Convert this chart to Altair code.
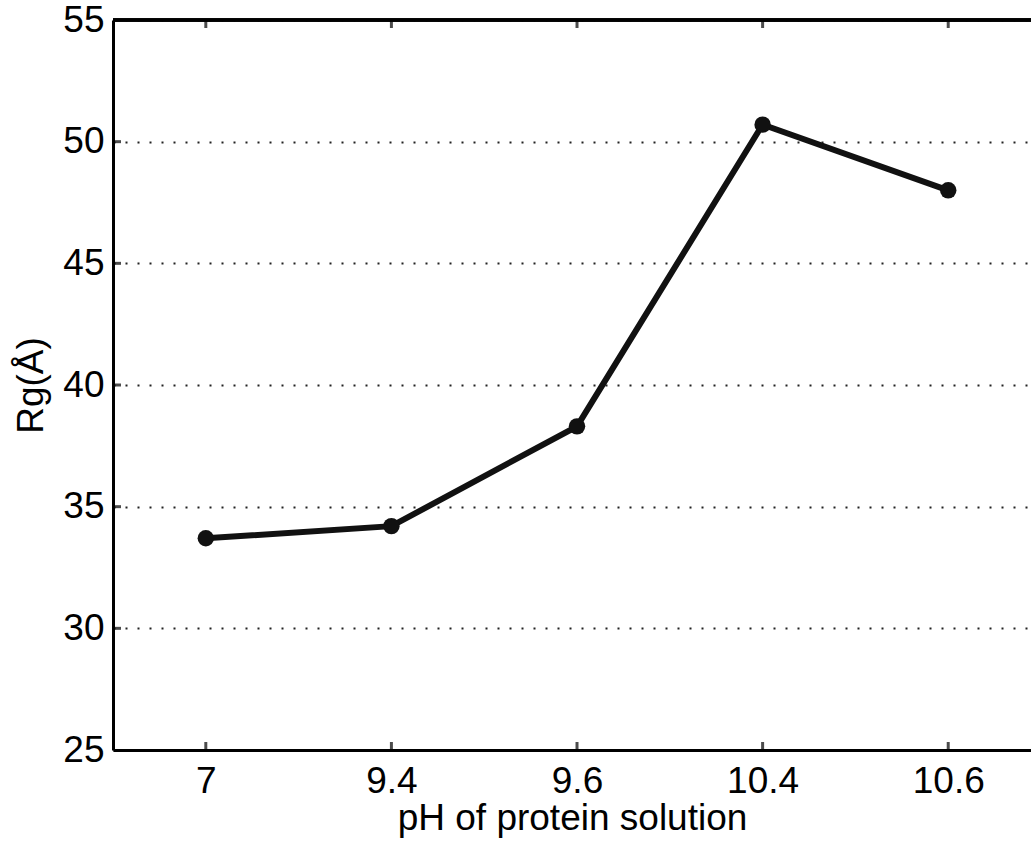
import altair as alt
import pandas as pd

ph_labels = ["7", "9.4", "9.6", "10.4", "10.6"]
rg_values = [33.7, 34.2, 38.3, 50.7, 48.0]
y_ticks = [30, 35, 40, 45, 50]

idx = list(range(1, len(ph_labels) + 1))
df = pd.DataFrame({"i": idx, "ph": ph_labels, "rg": rg_values})
xt = pd.DataFrame({"i": idx})
yt = pd.DataFrame({"v": y_ticks})

FONT = "Liberation Sans"
label_expr = "[" + ",".join("'" + s + "'" for s in ph_labels) + "][datum.value-1]"

xscale = alt.Scale(domain=[0.5, 5.446], nice=False, zero=False)
yscale = alt.Scale(domain=[25, 55], nice=False, zero=False)

x_axis = alt.Axis(
    values=idx, labelExpr=label_expr, title="pH of protein solution",
    grid=False, ticks=False, domainColor="black", domainWidth=3,
    labelFont=FONT, labelFontSize=37, labelColor="black", labelPadding=13,
    titleFont=FONT, titleFontSize=37, titleFontWeight="normal", titleColor="black",
    titlePadding=1,
)
y_axis = alt.Axis(
    values=[25, 30, 35, 40, 45, 50, 55], title="Rg(Å)",
    grid=True, gridColor="#222222", gridDash=[2, 10], gridWidth=2,
    ticks=False, domainColor="black", domainWidth=3,
    labelFont=FONT, labelFontSize=37, labelColor="black", labelPadding=9,
    titleFont=FONT, titleFontSize=37, titleFontWeight="normal", titleColor="black",
    titlePadding=12,
)

line = alt.Chart(df).mark_line(color="#111111", strokeWidth=6).encode(
    x=alt.X("i:Q", scale=xscale, axis=x_axis),
    y=alt.Y("rg:Q", scale=yscale, axis=y_axis),
)
pts = alt.Chart(df).mark_point(filled=True, color="#111111", size=270, opacity=1).encode(
    x="i:Q", y="rg:Q"
)
top_border = alt.Chart(df).mark_rule(color="black", strokeWidth=3).encode(
    y=alt.datum(55)
)
xtick_bottom = alt.Chart(xt).mark_tick(orient="vertical", size=8, thickness=3, color="black", yOffset=-4).encode(
    x="i:Q", y=alt.datum(25)
)
xtick_top = alt.Chart(xt).mark_tick(orient="vertical", size=8, thickness=3, color="black", yOffset=4).encode(
    x="i:Q", y=alt.datum(55)
)
ytick_left = alt.Chart(yt).mark_tick(orient="horizontal", size=8, thickness=3, color="black", xOffset=4).encode(
    x=alt.datum(0.5), y="v:Q"
)

chart = alt.layer(top_border, xtick_bottom, xtick_top, ytick_left, line, pts).properties(
    width=918, height=730,
    autosize=alt.AutoSizeParams(type="none"),
    padding={"left": 113, "top": 20, "right": 0, "bottom": 93},
    background="white",
).configure_view(stroke=None)

chart.save("out.html", embed_options={"renderer": "svg", "actions": False})
